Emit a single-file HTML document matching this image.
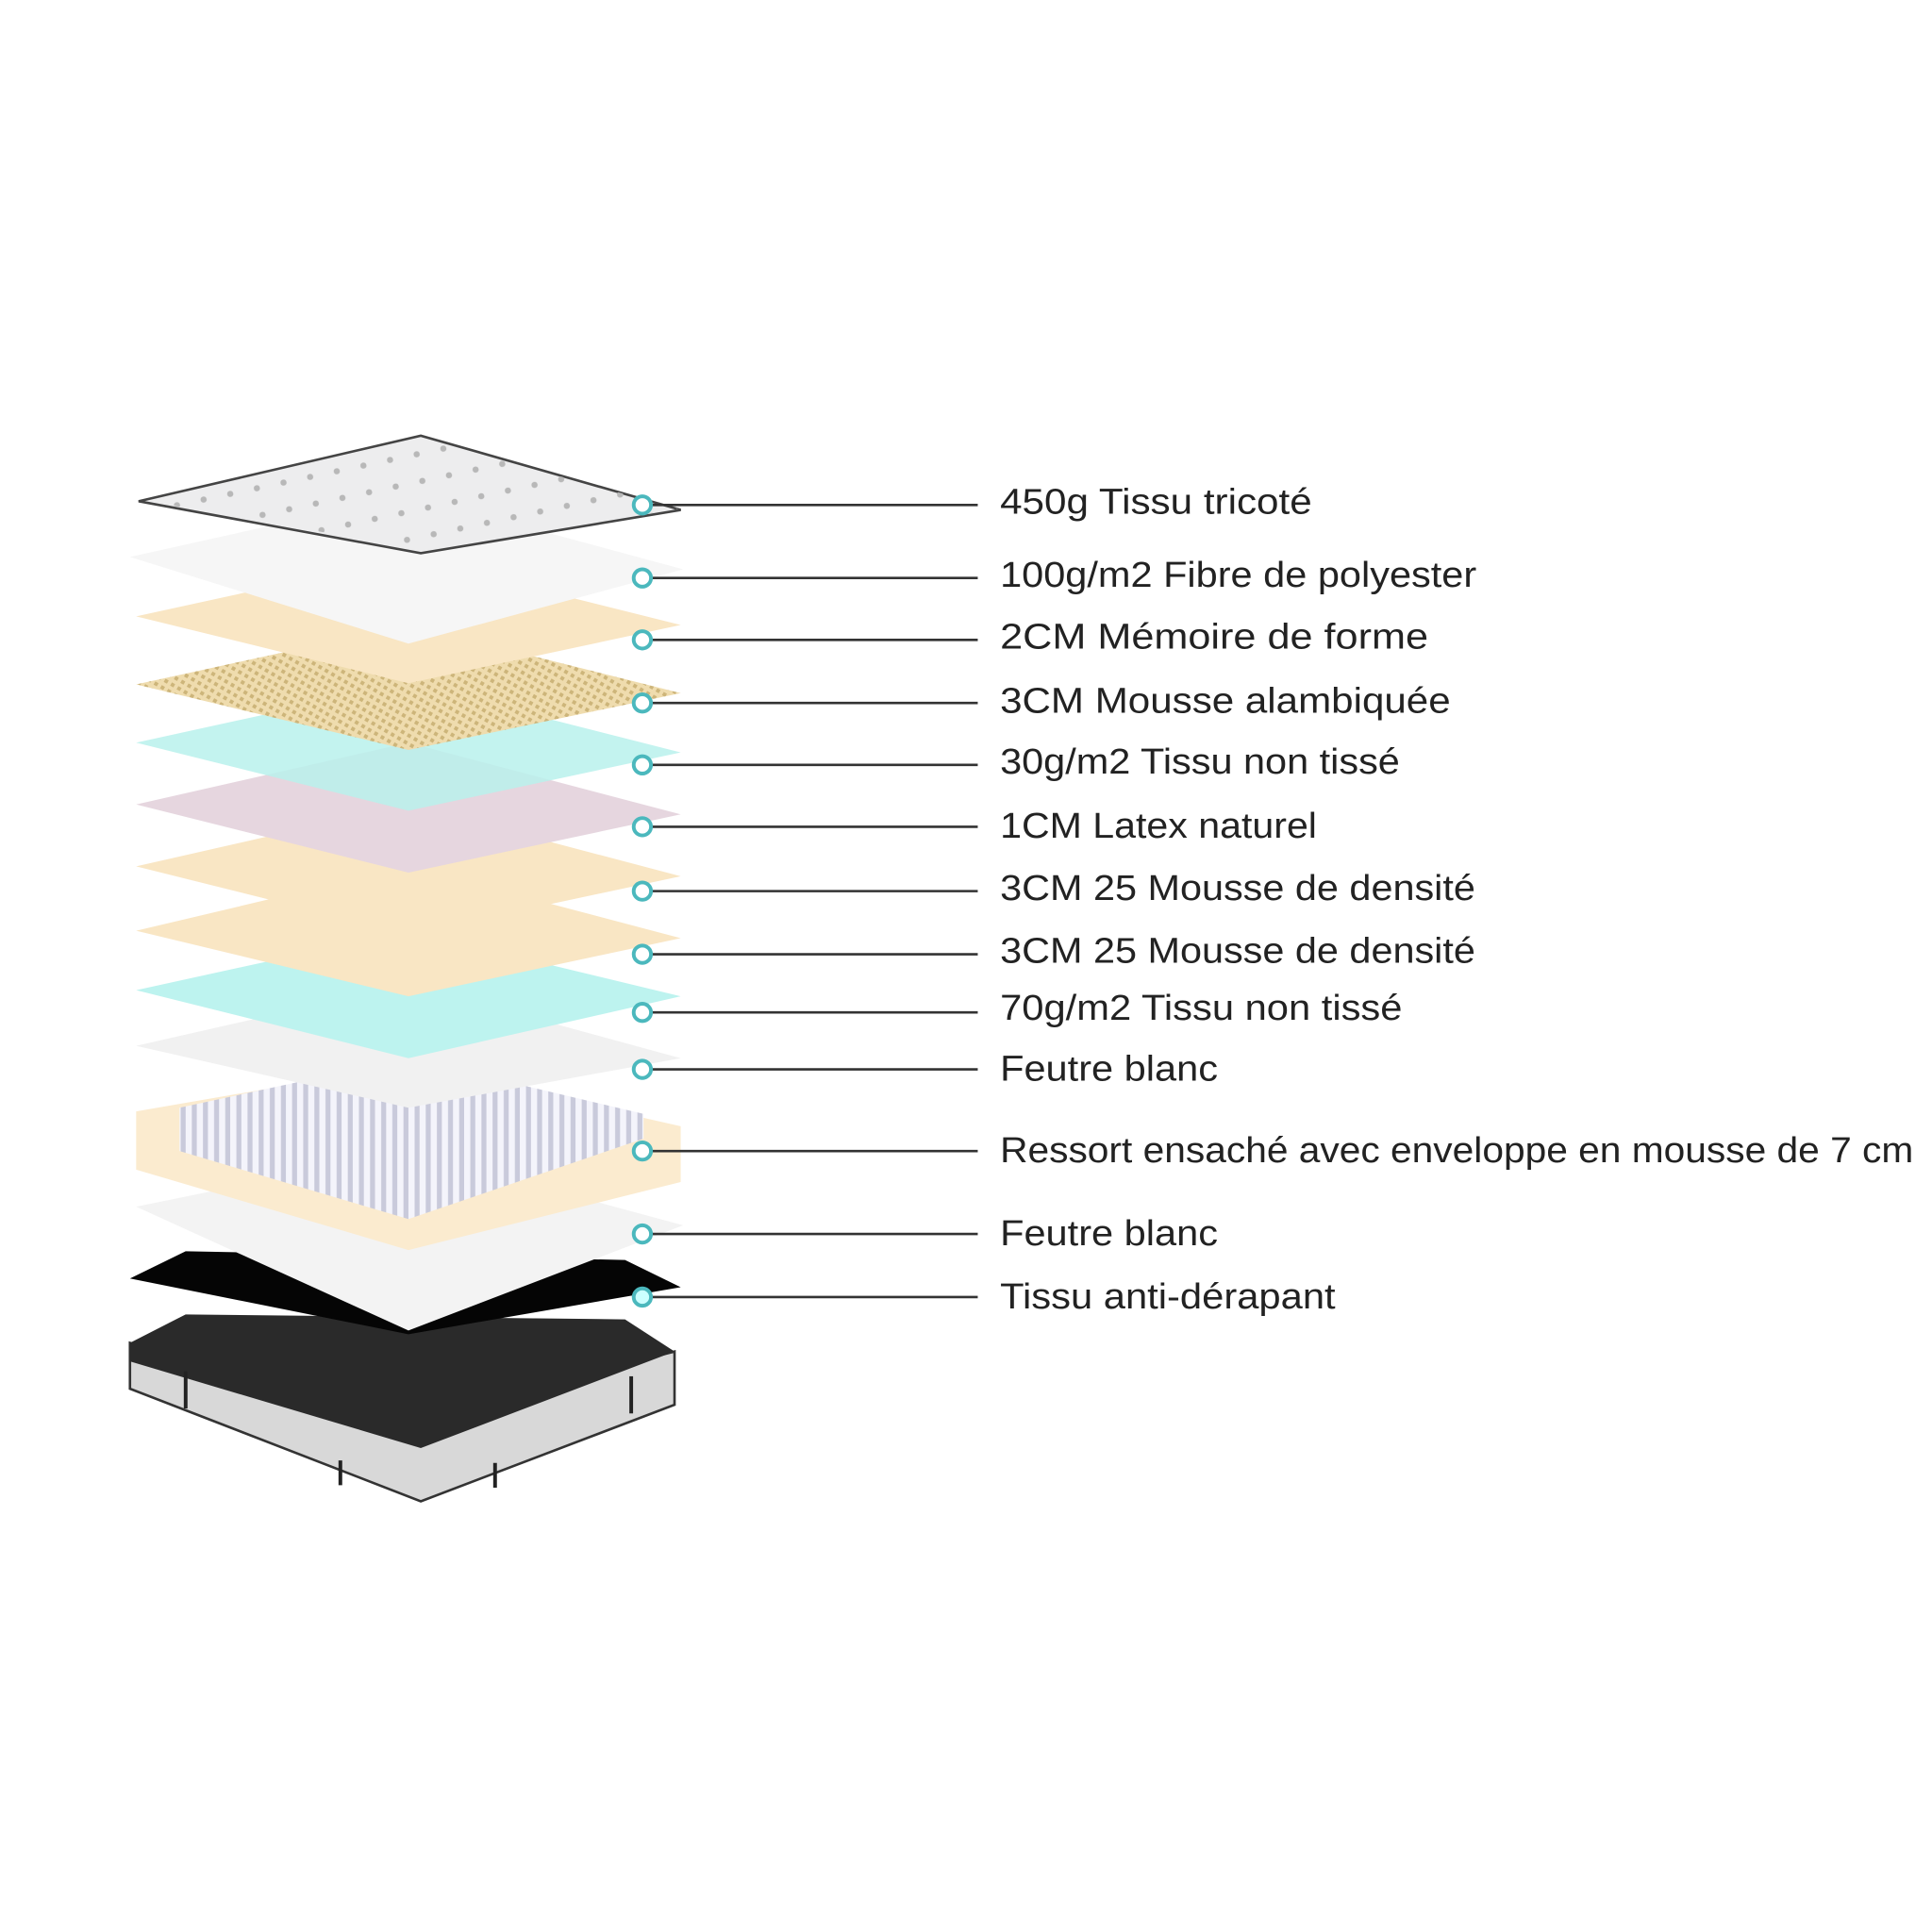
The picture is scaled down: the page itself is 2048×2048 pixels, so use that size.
<!DOCTYPE html>
<html><head><meta charset="utf-8"><style>
html,body{margin:0;padding:0;background:#fff;width:2048px;height:2048px;overflow:hidden}
svg{display:block}
text{font-family:"Liberation Sans",sans-serif;font-size:29px;fill:#222}
</style></head><body>
<svg width="2048" height="2048" viewBox="0 0 1561 1561" xmlns="http://www.w3.org/2000/svg">
<defs>
<pattern id="dots" width="22" height="22" patternUnits="userSpaceOnUse" patternTransform="rotate(-12)">
<circle cx="11" cy="11" r="2.5" fill="#b8b8b8"/></pattern>
<pattern id="chk" width="6" height="6" patternUnits="userSpaceOnUse" patternTransform="rotate(30)">
<rect width="6" height="6" fill="#efdcae"/><rect width="3" height="3" fill="#cdb57a"/></pattern>
<pattern id="spr" width="9" height="60" patternUnits="userSpaceOnUse">
<rect width="9" height="60" fill="#f4f4fb"/><rect x="2" width="4" height="60" fill="#c9cadb"/></pattern>
</defs>
<rect width="1561" height="1561" fill="#fff"/>
<g id="layers">
<!-- base mattress -->
<polygon points="105,1085 330,1145 545,1092 545,1135 340,1213 105,1122" fill="#d8d8d8" stroke="#333" stroke-width="2"/>
<polygon points="105,1085 150,1062 505,1066 545,1092 340,1170 105,1100" fill="#2a2a2a"/>
<line x1="150" y1="1108" x2="150" y2="1138" stroke="#222" stroke-width="3"/>
<line x1="510" y1="1112" x2="510" y2="1142" stroke="#222" stroke-width="3"/>
<line x1="275" y1="1180" x2="275" y2="1200" stroke="#222" stroke-width="3"/>
<line x1="400" y1="1182" x2="400" y2="1202" stroke="#222" stroke-width="3"/>
<!-- black sheet -->
<polygon points="105,1033 150,1011 505,1018 550,1040 330,1078" fill="#050505"/>
<!-- white felt bottom -->
<polygon points="110,975 330,930 552,990 330,1075" fill="#f3f3f3"/>
<!-- spring block -->
<polygon points="110,898 330,860 550,910 550,955 330,1010 110,945" fill="#fbebcf"/>
<polygon points="145,895 330,855 520,900 520,920 330,985 145,930" fill="url(#spr)"/>
<!-- white felt -->
<polygon points="110,845 330,795 550,855 330,895" fill="#f1f1f1"/>
<!-- cyan -->
<polygon points="110,800 330,752 550,805 330,855" fill="#bdf3ef"/>
<!-- beige -->
<polygon points="110,752 330,700 550,758 330,805" fill="#f9e6c4"/>
<polygon points="110,700 330,650 550,708 330,755" fill="#f9e6c4"/>
<!-- lilac -->
<polygon points="110,650 330,600 550,658 330,705" fill="#e6d6df"/>
<!-- cyan 30g -->
<polygon points="110,600 330,552 550,608 330,655" fill="#b9f1ec" opacity="0.85"/>
<!-- pattern -->
<polygon points="110,553 330,505 550,560 330,606" fill="url(#chk)"/>
<!-- beige 2cm -->
<polygon points="110,498 330,450 550,505 330,552" fill="#f9e6c4"/>
<!-- white -->
<polygon points="105,450 330,400 552,460 330,520" fill="#f6f6f6"/>
<!-- top quilted -->
<polygon points="112,405 340,352 550,412 340,447" fill="#ededee" stroke="#444" stroke-width="2"/>
<polygon points="114,404 340,354 548,411 340,444" fill="url(#dots)"/>
</g>
<g stroke="#333" stroke-width="2">
<line x1="525" y1="408" x2="790" y2="408"/>
<line x1="525" y1="467" x2="790" y2="467"/>
<line x1="525" y1="517" x2="790" y2="517"/>
<line x1="525" y1="568" x2="790" y2="568"/>
<line x1="525" y1="618" x2="790" y2="618"/>
<line x1="525" y1="668" x2="790" y2="668"/>
<line x1="525" y1="720" x2="790" y2="720"/>
<line x1="525" y1="771" x2="790" y2="771"/>
<line x1="525" y1="818" x2="790" y2="818"/>
<line x1="525" y1="864" x2="790" y2="864"/>
<line x1="525" y1="930" x2="790" y2="930"/>
<line x1="525" y1="997" x2="790" y2="997"/>
<line x1="525" y1="1048" x2="790" y2="1048"/>
</g>
<g fill="#fff" stroke="#4bb8bd" stroke-width="3">
<circle cx="519" cy="408" r="7"/><circle cx="519" cy="467" r="7"/><circle cx="519" cy="517" r="7"/>
<circle cx="519" cy="568" r="7"/><circle cx="519" cy="618" r="7"/><circle cx="519" cy="668" r="7"/>
<circle cx="519" cy="720" r="7"/><circle cx="519" cy="771" r="7"/><circle cx="519" cy="818" r="7"/>
<circle cx="519" cy="864" r="7"/><circle cx="519" cy="930" r="7"/><circle cx="519" cy="997" r="7"/>
<circle cx="519" cy="1048" r="7" fill="#cff"/>
</g>
<g>
<text x="808" y="415" textLength="252" lengthAdjust="spacingAndGlyphs">450g Tissu tricoté</text>
<text x="808" y="474" textLength="385" lengthAdjust="spacingAndGlyphs">100g/m2 Fibre de polyester</text>
<text x="808" y="524" textLength="346" lengthAdjust="spacingAndGlyphs">2CM  Mémoire de forme</text>
<text x="808" y="576" textLength="364" lengthAdjust="spacingAndGlyphs">3CM  Mousse alambiquée</text>
<text x="808" y="625" textLength="323" lengthAdjust="spacingAndGlyphs">30g/m2 Tissu non tissé</text>
<text x="808" y="677" textLength="256" lengthAdjust="spacingAndGlyphs">1CM Latex naturel</text>
<text x="808" y="727" textLength="384" lengthAdjust="spacingAndGlyphs">3CM 25 Mousse de densité</text>
<text x="808" y="778" textLength="384" lengthAdjust="spacingAndGlyphs">3CM 25 Mousse de densité</text>
<text x="808" y="824" textLength="325" lengthAdjust="spacingAndGlyphs">70g/m2 Tissu non tissé</text>
<text x="808" y="873" textLength="176" lengthAdjust="spacingAndGlyphs">Feutre blanc</text>
<text x="808" y="939" textLength="738" lengthAdjust="spacingAndGlyphs">Ressort ensaché avec enveloppe en mousse de 7 cm</text>
<text x="808" y="1006" textLength="176" lengthAdjust="spacingAndGlyphs">Feutre blanc</text>
<text x="808" y="1057" textLength="271" lengthAdjust="spacingAndGlyphs">Tissu anti-dérapant</text>
</g>
</svg>
</body></html>
